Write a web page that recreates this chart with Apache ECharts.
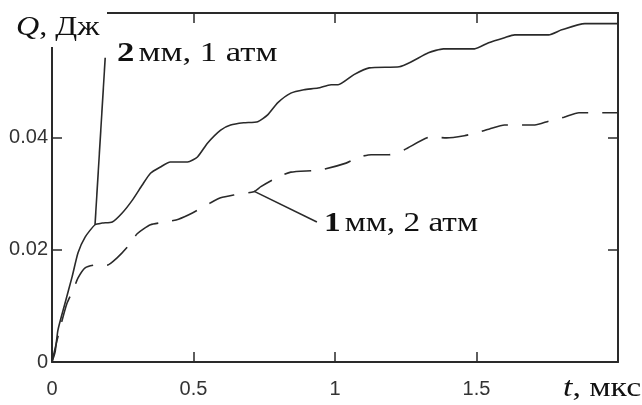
<!DOCTYPE html>
<html>
<head>
<meta charset="utf-8">
<script src="https://cdn.jsdelivr.net/npm/echarts@6/dist/echarts.min.js"></script>
<style>
  html, body { margin: 0; background: #fff; }
  #chart { width: 642px; height: 405px; }
</style>
</head>
<body>
<div id="chart"></div>
<script>
// 2 мм, 1 атм (сплошная)
const timeSolid = [0, 0.011, 0.021, 0.046, 0.071, 0.092, 0.117, 0.152, 0.177, 0.213, 0.248, 0.284, 0.319, 0.348, 0.383, 0.418, 0.479, 0.514, 0.550, 0.596, 0.631, 0.677, 0.727, 0.762, 0.798, 0.844, 0.890, 0.940, 0.986, 1.011, 1.067, 1.121, 1.227, 1.270, 1.330, 1.383, 1.493, 1.543, 1.599, 1.635, 1.755, 1.801, 1.883, 2.0]
const qSolid = [0, 0.0018, 0.0057, 0.0105, 0.0152, 0.0195, 0.0223, 0.0245, 0.0248, 0.0250, 0.0266, 0.0289, 0.0316, 0.0337, 0.0348, 0.0357, 0.0357, 0.0366, 0.0391, 0.0414, 0.0423, 0.0427, 0.0429, 0.0441, 0.0463, 0.0480, 0.0486, 0.0489, 0.0495, 0.0495, 0.0513, 0.0525, 0.0527, 0.0536, 0.0552, 0.0559, 0.0559, 0.0570, 0.0579, 0.0584, 0.0584, 0.0593, 0.0604, 0.0604]
// 1 мм, 2 атм (штриховая)
const timeDashed = [0, 0.004, 0.018, 0.036, 0.053, 0.075, 0.092, 0.117, 0.152, 0.195, 0.230, 0.266, 0.301, 0.348, 0.401, 0.447, 0.496, 0.560, 0.596, 0.642, 0.713, 0.738, 0.798, 0.844, 0.950, 1.039, 1.085, 1.128, 1.191, 1.245, 1.340, 1.394, 1.457, 1.500, 1.546, 1.599, 1.706, 1.755, 1.809, 1.862, 2.0]
const qDashed = [0, 0.0009, 0.0039, 0.0075, 0.0105, 0.0129, 0.0150, 0.0168, 0.0173, 0.0173, 0.0186, 0.0205, 0.0229, 0.0245, 0.0250, 0.0255, 0.0266, 0.0284, 0.0293, 0.0298, 0.0304, 0.0313, 0.0330, 0.0339, 0.0343, 0.0355, 0.0366, 0.0370, 0.0370, 0.0379, 0.0402, 0.0400, 0.0404, 0.0409, 0.0416, 0.0423, 0.0423, 0.0430, 0.0437, 0.0445, 0.0445]

const xTicks = [0, 0.5, 1, 1.5]
const yTicks = [0, 0.02, 0.04]
const xMax = 2
const yMax = 0.0623

// выноски: [t, Q] начало и конец
const leaderSolid = [[0.152, 0.0245], [0.188, 0.0543]]
const leaderDashed = [[0.713, 0.0305], [0.936, 0.0250]]

const ink = '#2a2a2a'
const serif = '"Liberation Serif", "DejaVu Serif", serif'
const sans = '"Liberation Sans", Arial, sans-serif'

function zip(xs, ys) {
  return xs.map((x, i) => [x, ys[i]])
}

// подпись из серифного шрифта, растянутая по горизонтали как в оригинале
function label(x, y, text, sx, rich) {
  return {
    type: 'text',
    z: 101,
    x: x,
    y: y,
    scaleX: sx,
    style: {text: text, verticalAlign: 'middle', rich: rich}
  }
}

let chart = echarts.init(document.getElementById('chart'))

let axisLine = {show: true, onZero: false, lineStyle: {color: ink, width: 2}}
let tickStyle = {color: ink, width: 1.5}
let richQ = {
  q: {fontFamily: serif, fontStyle: 'italic', fontSize: 27, fill: '#111'},
  n: {fontFamily: serif, fontSize: 27, fill: '#111'}
}
let richNum = {
  b: {fontFamily: serif, fontWeight: 'bold', fontSize: 28, fill: '#111'},
  n: {fontFamily: serif, fontSize: 28, fill: '#111'}
}

let option = {
  animation: false,
  backgroundColor: '#fff',
  grid: {left: 52, right: 24, top: 13, bottom: 43},
  xAxis: [{
    type: 'value',
    min: 0,
    max: xMax,
    interval: 0.5,
    axisLine: axisLine,
    axisTick: {show: true, inside: true, length: 10, customValues: xTicks, lineStyle: tickStyle},
    axisLabel: {customValues: xTicks, fontSize: 20, color: '#333', fontFamily: sans, margin: 17},
    splitLine: {show: false}
  }, {
    type: 'value',
    position: 'top',
    min: 0,
    max: xMax,
    interval: 0.5,
    axisLine: axisLine,
    axisTick: {show: true, inside: true, length: 10, customValues: [0.5, 1, 1.5], lineStyle: tickStyle},
    axisLabel: {show: false},
    splitLine: {show: false}
  }],
  yAxis: [{
    type: 'value',
    min: 0,
    max: yMax,
    interval: 0.02,
    axisLine: axisLine,
    axisTick: {show: true, inside: true, length: 10, customValues: yTicks, lineStyle: tickStyle},
    axisLabel: {customValues: yTicks, fontSize: 20, color: '#333', fontFamily: sans, margin: 4},
    splitLine: {show: false}
  }, {
    type: 'value',
    position: 'right',
    min: 0,
    max: yMax,
    interval: 0.02,
    axisLine: axisLine,
    axisTick: {show: true, inside: true, length: 10, customValues: [0.02, 0.04], lineStyle: tickStyle},
    axisLabel: {show: false},
    splitLine: {show: false}
  }],
  series: [{
    name: '2 мм, 1 атм',
    type: 'line',
    data: zip(timeSolid, qSolid),
    symbol: 'none',
    smooth: 0.2,
    lineStyle: {color: ink, width: 1.6},
    markLine: {
      silent: true,
      symbol: ['none', 'none'],
      label: {show: false},
      lineStyle: {color: ink, width: 1.6, type: 'solid'},
      data: [[{coord: leaderSolid[0]}, {coord: leaderSolid[1]}]]
    }
  }, {
    name: '1 мм, 2 атм',
    type: 'line',
    data: zip(timeDashed, qDashed),
    symbol: 'none',
    smooth: 0.2,
    lineStyle: {color: ink, width: 1.6, type: [27, 14]},
    markLine: {
      silent: true,
      symbol: ['none', 'none'],
      label: {show: false},
      lineStyle: {color: ink, width: 1.6, type: 'solid'},
      data: [[{coord: leaderDashed[0]}, {coord: leaderDashed[1]}]]
    }
  }],
  graphic: [{
    // белая подложка под подписью оси
    type: 'rect',
    z: 100,
    shape: {x: 0, y: 0, width: 107, height: 47},
    style: {fill: '#fff'}
  },
    label(16, 28, '{q|Q}{n|, Дж}', 1.19, richQ),
    label(117, 54, '{b|2} {n|мм, 1 атм}', 1.24, richNum),
    label(324, 224, '{b|1} {n|мм, 2 атм}', 1.19, richNum),
    label(563, 389, '{q|t}{n|, мкс}', 1.25, richQ)
  ]
}

chart.setOption(option)
</script>
</body>
</html>
